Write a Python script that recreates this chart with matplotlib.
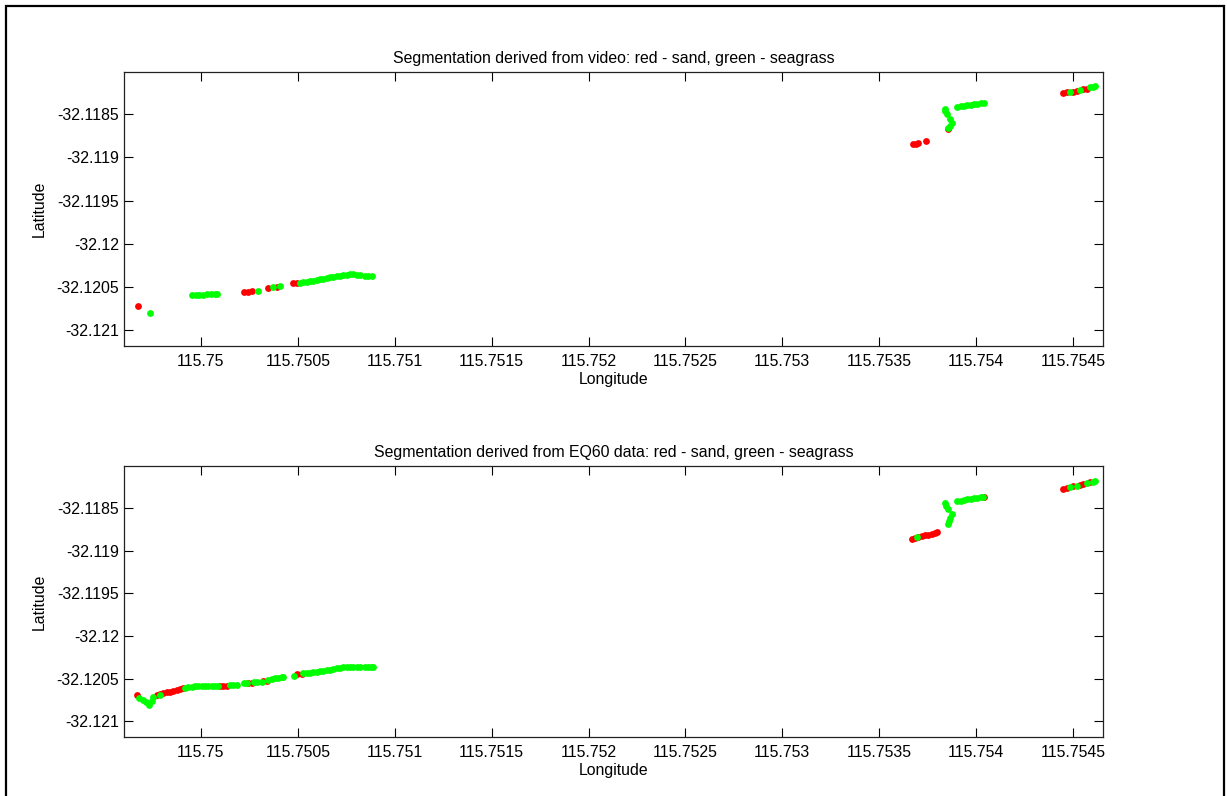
import matplotlib
matplotlib.use('Agg')
import matplotlib.pyplot as plt
from matplotlib.patches import Rectangle

plt.rcParams['font.family'] = ['Liberation Sans', 'DejaVu Sans']
plt.rcParams['font.size'] = 11.4

# ---- data (lon, lat per class) ----
top_red_lon = [115.749676, 115.750222, 115.750244, 115.750262, 115.750347, 115.750391,
               115.750475, 115.750495,
               115.753675, 115.753689, 115.753701, 115.753741, 115.753856,
               115.754450, 115.754467, 115.754501, 115.754519, 115.754553, 115.754570]
top_red_lat = [-32.120721, -32.120562, -32.120562, -32.120543, -32.120515, -32.120503,
               -32.120457, -32.120454,
               -32.118848, -32.118843, -32.118837, -32.118810, -32.118674,
               -32.118255, -32.118247, -32.118236, -32.118229, -32.118212, -32.118205]

top_green_lon = [115.749737,
                 115.749952, 115.749972, 115.749992, 115.750012, 115.750032, 115.750052,
                 115.750072, 115.750081,
                 115.750296, 115.750373, 115.750408,
                 115.750511, 115.750528, 115.750545, 115.750562, 115.750579, 115.750597,
                 115.750614, 115.750631, 115.750649, 115.750666, 115.750683, 115.750700,
                 115.750717, 115.750734, 115.750752, 115.750769, 115.750786, 115.750803,
                 115.750820, 115.750846, 115.750863, 115.750881,
                 115.753839, 115.753840, 115.753848,
                 115.753866, 115.753874, 115.753865, 115.753856,
                 115.753903, 115.753920, 115.753937, 115.753954, 115.753972, 115.753989,
                 115.754006, 115.754023, 115.754040,
                 115.754484, 115.754536, 115.754587, 115.754604, 115.754613]
top_green_lat = [-32.120806,
                 -32.120593, -32.120592, -32.120590, -32.120588, -32.120586, -32.120584,
                 -32.120582, -32.120581,
                 -32.120543, -32.120503, -32.120485,
                 -32.120450, -32.120444, -32.120438, -32.120433, -32.120427, -32.120418,
                 -32.120410, -32.120402, -32.120395, -32.120388, -32.120380, -32.120376,
                 -32.120372, -32.120364, -32.120357, -32.120354, -32.120352, -32.120358,
                 -32.120364, -32.120368, -32.120368, -32.120368,
                 -32.118433, -32.118465, -32.118500,
                 -32.118558, -32.118596, -32.118636, -32.118662,
                 -32.118410, -32.118403, -32.118398, -32.118391, -32.118387, -32.118380,
                 -32.118375, -32.118368, -32.118368,
                 -32.118244, -32.118221, -32.118189, -32.118182, -32.118177]

bot_red_lon = [115.749668,
               115.749771, 115.749788, 115.749805, 115.749823, 115.749840, 115.749857,
               115.749875, 115.749892, 115.749909,
               115.750098, 115.750115, 115.750133,
               115.750244, 115.750262, 115.750321, 115.750339,
               115.750494, 115.750520,
               115.753667, 115.753684, 115.753701, 115.753719, 115.753736, 115.753753,
               115.753770, 115.753787, 115.753796,
               115.754042,
               115.754450, 115.754467, 115.754501, 115.754536, 115.754553, 115.754587]
bot_red_lat = [-32.120689,
               -32.120689, -32.120680, -32.120670, -32.120660, -32.120651, -32.120641,
               -32.120631, -32.120622, -32.120612,
               -32.120581, -32.120581, -32.120581,
               -32.120553, -32.120553, -32.120527, -32.120527,
               -32.120449, -32.120449,
               -32.118867, -32.118852, -32.118840, -32.118829, -32.118821, -32.118814,
               -32.118802, -32.118790, -32.118782,
               -32.118373,
               -32.118274, -32.118267, -32.118247, -32.118232, -32.118220, -32.118201]

bot_green_lon = [115.749682, 115.749699, 115.749716, 115.749733, 115.749746, 115.749754,
                 115.749788,
                 115.749917, 115.749934, 115.749952, 115.749969, 115.749986, 115.750004,
                 115.750021, 115.750038, 115.750055, 115.750072, 115.750089,
                 115.750150, 115.750167, 115.750184,
                 115.750222, 115.750236,
                 115.750273, 115.750290, 115.750313,
                 115.750347, 115.750365, 115.750382, 115.750399, 115.750416, 115.750425,
                 115.750480,
                 115.750528, 115.750545, 115.750562, 115.750579, 115.750597, 115.750614,
                 115.750631, 115.750649, 115.750666, 115.750683, 115.750700, 115.750717,
                 115.750734, 115.750752, 115.750769, 115.750786, 115.750803, 115.750820,
                 115.750846, 115.750863, 115.750880, 115.750889,
                 115.753839, 115.753844, 115.753853,
                 115.753874, 115.753868, 115.753860, 115.753854,
                 115.753903, 115.753920, 115.753937, 115.753954, 115.753972, 115.753989,
                 115.754006, 115.754023, 115.754035,
                 115.753696,
                 115.754484, 115.754519, 115.754570, 115.754604, 115.754613]
bot_green_lat = [-32.120721, -32.120748, -32.120774, -32.120806, -32.120767, -32.120716,
                 -32.120689,
                 -32.120605, -32.120600, -32.120594, -32.120588, -32.120585, -32.120582,
                 -32.120581, -32.120581, -32.120581, -32.120581, -32.120581,
                 -32.120573, -32.120573, -32.120573,
                 -32.120553, -32.120553,
                 -32.120542, -32.120542, -32.120542,
                 -32.120515, -32.120507, -32.120495, -32.120488, -32.120484, -32.120484,
                 -32.120465,
                 -32.120437, -32.120434, -32.120430, -32.120425, -32.120420, -32.120414,
                 -32.120408, -32.120402, -32.120395, -32.120387, -32.120379, -32.120372,
                 -32.120366, -32.120360, -32.120360, -32.120360, -32.120360, -32.120360,
                 -32.120360, -32.120360, -32.120360, -32.120360,
                 -32.118441, -32.118480, -32.118518,
                 -32.118576, -32.118616, -32.118654, -32.118693,
                 -32.118422, -32.118414, -32.118407, -32.118398, -32.118395, -32.118390,
                 -32.118383, -32.118375, -32.118372,
                 -32.118840,
                 -32.118255, -32.118239, -32.118209, -32.118193, -32.118188]

xticks = [115.75, 115.7505, 115.751, 115.7515, 115.752, 115.7525, 115.753, 115.7535,
          115.754, 115.7545]
xtick_labels = ['115.75', '115.7505', '115.751', '115.7515', '115.752', '115.7525',
                '115.753', '115.7535', '115.754', '115.7545']
yticks = [-32.121, -32.1205, -32.12, -32.1195, -32.119, -32.1185]
ytick_labels = ['-32.121', '-32.1205', '-32.12', '-32.1195', '-32.119', '-32.1185']

titles = ['Segmentation derived from video: red - sand, green - seagrass',
          'Segmentation derived from EQ60 data: red - sand, green - seagrass']

W, H = 1227, 796
fig = plt.figure(figsize=(W / 100, H / 100), dpi=100)

# outer frame like the MATLAB export
fig.patches.append(Rectangle((5.5 / W, -0.02), (1223.5 - 5.5) / W, 1 - 5.5 / H + 0.02,
                             transform=fig.transFigure, fill=False,
                             edgecolor='black', linewidth=1.6, zorder=10))

ax_top = fig.add_axes([124 / W, 1 - 346 / H, (1103 - 124) / W, (346 - 72) / H])
ax_bot = fig.add_axes([124 / W, 1 - 737 / H, (1103 - 124) / W, (737 - 466) / H])

panels = [(ax_top, top_red_lon, top_red_lat, top_green_lon, top_green_lat),
          (ax_bot, bot_red_lon, bot_red_lat, bot_green_lon, bot_green_lat)]

for i, (ax, rlon, rlat, glon, glat) in enumerate(panels):
    ax.plot(rlon, rlat, 'o', color='#FF0000', markersize=4.9, markeredgewidth=0,
            linestyle='none')
    ax.plot(glon, glat, 'o', color='#00FF00', markersize=4.9, markeredgewidth=0,
            linestyle='none')
    ax.set_xlim(115.749603, 115.754655)
    ax.set_ylim(-32.121183, -32.118010)
    ax.set_xticks(xticks)
    ax.set_xticklabels(xtick_labels)
    ax.set_yticks(yticks)
    ax.set_yticklabels(ytick_labels)
    ax.tick_params(direction='in', length=6.5, width=0.8, top=True, right=True,
                   labelsize=11.4)
    ax.tick_params(axis='x', pad=5.5)
    ax.tick_params(axis='y', pad=3.5)
    for sp in ax.spines.values():
        sp.set_linewidth(0.9)
        sp.set_color('#222222')
    ax.set_title(titles[i], fontsize=11.4, pad=6.5)
    ax.set_xlabel('Longitude', fontsize=11.4, labelpad=2.5)
    ax.set_ylabel('Latitude', fontsize=11.4, labelpad=7)

fig.savefig('out.png', dpi=100, facecolor='white')
plt.close(fig)
